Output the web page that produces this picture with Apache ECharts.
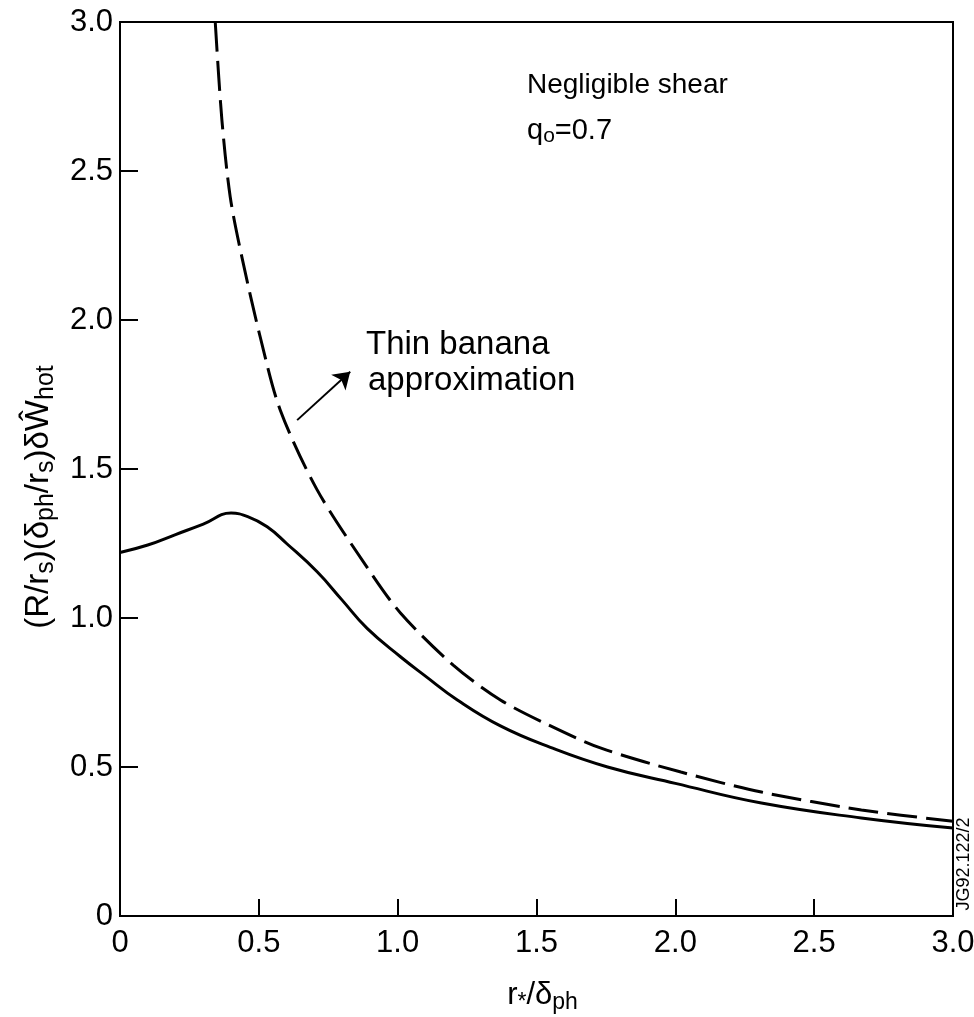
<!DOCTYPE html>
<html>
<head>
<meta charset="utf-8">
<script src="https://cdn.jsdelivr.net/npm/echarts@6/dist/echarts.min.js"></script>
<style>
html,body{margin:0;padding:0;background:#fff;}
#chart{width:974px;height:1017px;}
</style>
</head>
<body>
<div id="chart"></div>
<script>
// Full kinetic (solid) curve
var solidX = [0, 0.1, 0.2, 0.3, 0.4, 0.46, 0.53, 0.6, 0.71, 0.8, 0.89, 1.01, 1.1, 1.215, 1.37, 1.55, 1.756, 2.0, 2.31, 2.67, 3.0];
var solidY = [1.22, 1.245, 1.28, 1.315, 1.352, 1.34, 1.306, 1.25, 1.155, 1.06, 0.965, 0.87, 0.805, 0.725, 0.638, 0.566, 0.50, 0.445, 0.379, 0.329, 0.295];
// Thin banana approximation (dashed)
var dashX = [0.343, 0.367, 0.397, 0.439, 0.505, 0.577, 0.71, 0.89, 1.01, 1.20, 1.37, 1.55, 1.73, 2.02, 2.31, 2.67, 3.0];
var dashY = [3.0, 2.671, 2.413, 2.211, 1.943, 1.698, 1.43, 1.17, 1.017, 0.842, 0.725, 0.638, 0.564, 0.483, 0.416, 0.356, 0.318];
// Arrow pointing from dashed curve to annotation
var arrowFrom = [0.638, 1.664];
var arrowTo = [0.829, 1.826];
// Tick values
var xTicks = [0, 0.5, 1.0, 1.5, 2.0, 2.5, 3.0];
var yTicks = [0, 0.5, 1.0, 1.5, 2.0, 2.5, 3.0];

function zip(a, b) { return a.map(function (v, i) { return [v, b[i]]; }); }
function fmt(v) { return v === 0 ? '0' : v.toFixed(1); }

var FONT = '"Liberation Sans", Arial, Helvetica, sans-serif';
var chart = echarts.init(document.getElementById('chart'), null, {renderer: 'canvas'});

chart.setOption({
  backgroundColor: '#fff',
  animation: false,
  grid: {left: 120, right: 21, top: 22, bottom: 101, containLabel: false, outerBoundsMode: 'none',
         show: true, borderColor: '#000', borderWidth: 2, backgroundColor: 'transparent'},
  xAxis: {
    type: 'value', min: xTicks[0], max: xTicks[xTicks.length - 1], interval: 0.5,
    axisLine: {show: true, onZero: false, lineStyle: {color: '#000', width: 2}},
    axisTick: {show: true, inside: true, length: 17, lineStyle: {color: '#000', width: 2}},
    splitLine: {show: false},
    axisLabel: {color: '#000', fontSize: 31, fontFamily: FONT, margin: 12, formatter: fmt},
    name: 'r{s|*}/δ{s|ph}',
    nameLocation: 'middle', nameGap: 60,
    nameTextStyle: {
      color: '#000', fontSize: 31, fontFamily: FONT, padding: [0, 0, 0, 12],
      rich: {s: {fontSize: 23, fontFamily: FONT, color: '#000', padding: [15, 0, 0, 0]}}
    }
  },
  yAxis: {
    type: 'value', min: yTicks[0], max: yTicks[yTicks.length - 1], interval: 0.5,
    axisLine: {show: true, onZero: false, lineStyle: {color: '#000', width: 2}},
    axisTick: {show: true, inside: true, length: 18, lineStyle: {color: '#000', width: 2}},
    splitLine: {show: false},
    axisLabel: {color: '#000', fontSize: 31, fontFamily: FONT, margin: 7, formatter: fmt},
    name: '(R/r{s|s})(δ{s|ph}/r{s|s})δŴ{s|hot}',
    nameLocation: 'middle', nameGap: 60, nameRotate: 90,
    nameTextStyle: {
      color: '#000', fontSize: 33, fontFamily: FONT, padding: [0, 56, 0, 0],
      rich: {s: {fontSize: 25, fontFamily: FONT, color: '#000', padding: [16, 0, 0, 0]}}
    }
  },
  series: [
    {
      name: 'Full', type: 'line', data: zip(solidX, solidY), smooth: 0.45,
      showSymbol: false, clip: true,
      lineStyle: {color: '#000', width: 3}
    },
    {
      name: 'Thin banana', type: 'line', data: zip(dashX, dashY), smooth: 0.3,
      showSymbol: false, clip: true,
      lineStyle: {color: '#000', width: 3, type: [30, 9]}
    },
    {
      type: 'lines', coordinateSystem: 'cartesian2d', silent: true,
      symbol: ['none', 'arrow'], symbolSize: [11, 16],
      lineStyle: {color: '#000', width: 2, opacity: 1},
      data: [{coords: [arrowFrom, arrowTo]}]
    }
  ],
  graphic: [
    {type: 'text', left: 527, top: 71, style: {text: 'Negligible shear', fontSize: 28, fontFamily: FONT, fill: '#000'}},
    {type: 'text', left: 527, top: 116, style: {
      text: 'q{s|o}=0.7', fontSize: 29, fontFamily: FONT, fill: '#000',
      rich: {s: {fontSize: 21, fontFamily: FONT, fill: '#000', padding: [12, 0, 0, 0]}}
    }},
    {type: 'text', left: 366, top: 328, style: {text: 'Thin banana', fontSize: 33, fontFamily: FONT, fill: '#000'}},
    {type: 'text', left: 368, top: 364, style: {text: 'approximation', fontSize: 33, fontFamily: FONT, fill: '#000'}},
    {type: 'text', x: 973, y: 864, rotation: Math.PI / 2, style: {
      text: 'JG92.122/2', fontSize: 18, fontFamily: FONT, fill: '#000',
      align: 'center', verticalAlign: 'bottom'
    }}
  ]
});
</script>
</body>
</html>
